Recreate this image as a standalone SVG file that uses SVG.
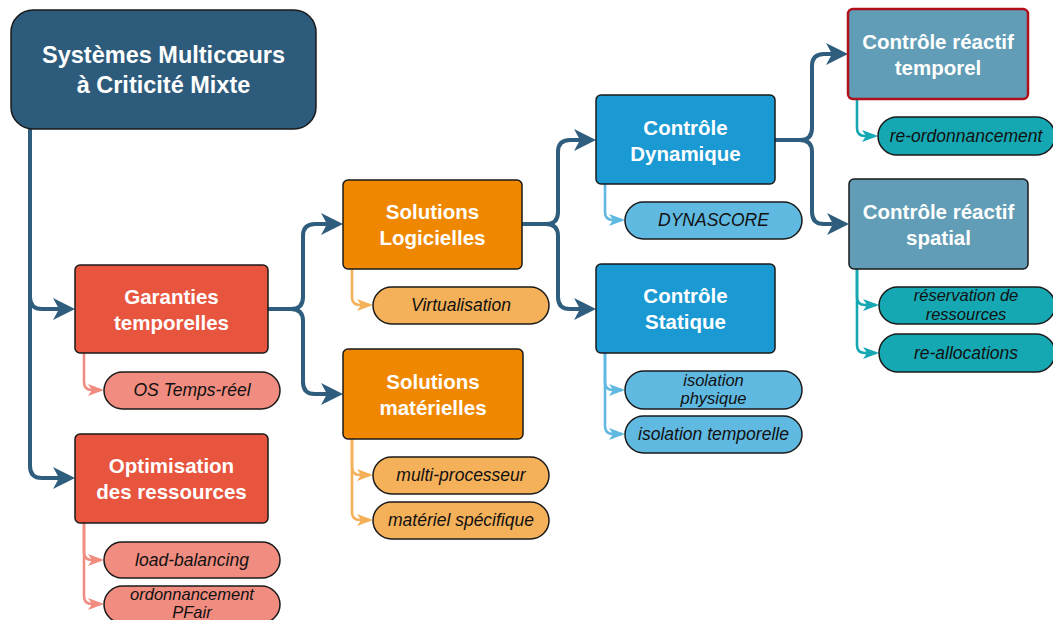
<svg xmlns="http://www.w3.org/2000/svg" width="1053" height="620" viewBox="0 0 1053 620">
<defs>
<style>
.node{stroke:#1a1a1a;stroke-width:1.5}
.root{fill:#2d5b7b}
.red{fill:#e8553f}
.org{fill:#ef8800}
.blu{fill:#1b99d3}
.stl{fill:#619db6}
.lred{fill:#f08c80}
.lorg{fill:#f5b05a}
.lblu{fill:#60b9e1}
.ltel{fill:#15a8b3}
.t{font-family:"Liberation Sans",Arial,sans-serif;font-weight:bold;fill:#fff;text-anchor:middle;font-size:20.5px}
.tr{font-size:23.5px}
.l{font-family:"Liberation Sans",Arial,sans-serif;font-style:italic;fill:#111;text-anchor:middle;font-size:17.5px}
.l2{font-size:16.5px}
.main{fill:none;stroke:#2f5d7e;stroke-width:4;marker-end:url(#am)}
.sub{fill:none;stroke-width:2.6}
.sred{stroke:#f08c80;marker-end:url(#ared)}
.sorg{stroke:#f5b05a;marker-end:url(#aorg)}
.sblu{stroke:#60b9e1;marker-end:url(#ablu)}
.stel{stroke:#15a8b3;marker-end:url(#atel)}
</style>
<marker id="am" markerUnits="userSpaceOnUse" markerWidth="22" markerHeight="22" viewBox="0 0 22 22" refX="18" refY="11" orient="auto"><path d="M0,0 L22,11 L0,22 L6,11 Z" fill="#2f5d7e"/></marker>
<marker id="ared" markerUnits="userSpaceOnUse" markerWidth="16" markerHeight="12" viewBox="0 0 16 12" refX="13" refY="6" orient="auto"><path d="M0,0 L16,6 L0,12 L4,6 Z" fill="#f08c80"/></marker>
<marker id="aorg" markerUnits="userSpaceOnUse" markerWidth="16" markerHeight="12" viewBox="0 0 16 12" refX="13" refY="6" orient="auto"><path d="M0,0 L16,6 L0,12 L4,6 Z" fill="#f5b05a"/></marker>
<marker id="ablu" markerUnits="userSpaceOnUse" markerWidth="16" markerHeight="12" viewBox="0 0 16 12" refX="13" refY="6" orient="auto"><path d="M0,0 L16,6 L0,12 L4,6 Z" fill="#60b9e1"/></marker>
<marker id="atel" markerUnits="userSpaceOnUse" markerWidth="16" markerHeight="12" viewBox="0 0 16 12" refX="13" refY="6" orient="auto"><path d="M0,0 L16,6 L0,12 L4,6 Z" fill="#15a8b3"/></marker>
</defs>
<rect width="1053" height="620" fill="#fff"/>

<g id="connectors">
<path class="main" d="M30,129 V297 Q30,309 42,309 H71"/>
<path class="main" d="M30,129 V466 Q30,478 42,478 H71"/>
<path class="main" d="M268,309 H291 Q303,309 303,297 V236 Q303,224 315,224 H339"/>
<path class="main" d="M268,309 H291 Q303,309 303,321 V382 Q303,394 315,394 H339"/>
<path class="main" d="M522,224 H546 Q558,224 558,212 V152 Q558,140 570,140 H592"/>
<path class="main" d="M522,224 H546 Q558,224 558,236 V297 Q558,309 570,309 H592"/>
<path class="main" d="M775,140 H800 Q812,140 812,128 V66 Q812,54 824,54 H844"/>
<path class="main" d="M775,140 H800 Q812,140 812,152 V212 Q812,224 824,224 H845"/>

<path class="sub sred" d="M84,353 V382 Q84,390 92,390 H101"/>
<path class="sub sred" d="M84,523 V552 Q84,560 92,560 H101"/>
<path class="sub sred" d="M84,523 V596 Q84,604 92,604 H101"/>
<path class="sub sorg" d="M352,269 V297 Q352,305 360,305 H370"/>
<path class="sub sorg" d="M352,439 V467 Q352,475 360,475 H370"/>
<path class="sub sorg" d="M352,439 V512 Q352,520 360,520 H370"/>
<path class="sub sblu" d="M605,184 V212 Q605,220 613,220 H622"/>
<path class="sub sblu" d="M605,353 V382 Q605,390 613,390 H622"/>
<path class="sub sblu" d="M605,353 V426 Q605,434 613,434 H622"/>
<path class="sub stel" d="M857,99 V128 Q857,136 865,136 H875"/>
<path class="sub stel" d="M857,269 V297 Q857,305 865,305 H876"/>
<path class="sub stel" d="M857,269 V345 Q857,353 865,353 H876"/>
</g>

<g id="root"><rect class="node root" x="11" y="10" width="305" height="119" rx="22"/>
<text class="t tr" x="163.5" y="63">Systèmes Multicœurs</text><text class="t tr" x="163.5" y="93">à Criticité Mixte</text></g>

<g id="garanties"><rect class="node red" x="75" y="265" width="193" height="88" rx="5"/>
<text class="t" x="171.5" y="304">Garanties</text><text class="t" x="171.5" y="330">temporelles</text></g>
<g id="os"><rect class="node lred" x="104" y="372" width="176" height="37" rx="18.5"/>
<text class="l" x="192" y="396">OS Temps-réel</text></g>

<g id="optimisation"><rect class="node red" x="75" y="434" width="193" height="89" rx="5"/>
<text class="t" x="171.5" y="473">Optimisation</text><text class="t" x="171.5" y="499">des ressources</text></g>
<g id="loadbalancing"><rect class="node lred" x="104" y="542" width="176" height="36" rx="18"/>
<text class="l" x="192" y="566">load-balancing</text></g>
<g id="pfair"><rect class="node lred" x="104" y="586" width="176" height="37" rx="18.5"/>
<text class="l l2" x="192" y="599.5">ordonnancement</text><text class="l l2" x="192" y="618">PFair</text></g>

<g id="logicielles"><rect class="node org" x="343" y="180" width="179" height="89" rx="5"/>
<text class="t" x="432.5" y="219">Solutions</text><text class="t" x="432.5" y="245">Logicielles</text></g>
<g id="virtualisation"><rect class="node lorg" x="373" y="287" width="176" height="37" rx="18.5"/>
<text class="l" x="461" y="311">Virtualisation</text></g>

<g id="materielles"><rect class="node org" x="343" y="349" width="180" height="90" rx="5"/>
<text class="t" x="433" y="389">Solutions</text><text class="t" x="433" y="415">matérielles</text></g>
<g id="multiproc"><rect class="node lorg" x="373" y="457" width="176" height="37" rx="18.5"/>
<text class="l" x="461" y="481">multi-processeur</text></g>
<g id="specifique"><rect class="node lorg" x="373" y="502" width="176" height="37" rx="18.5"/>
<text class="l" x="461" y="526">matériel spécifique</text></g>

<g id="dynamique"><rect class="node blu" x="596" y="95" width="179" height="89" rx="5"/>
<text class="t" x="685.5" y="135">Contrôle</text><text class="t" x="685.5" y="161">Dynamique</text></g>
<g id="dynascore"><rect class="node lblu" x="625" y="202" width="177" height="37" rx="18.5"/>
<text class="l" x="713.5" y="226">DYNASCORE</text></g>

<g id="statique"><rect class="node blu" x="596" y="264" width="179" height="89" rx="5"/>
<text class="t" x="685.5" y="303">Contrôle</text><text class="t" x="685.5" y="329">Statique</text></g>
<g id="isophys"><rect class="node lblu" x="625" y="371" width="177" height="38" rx="19"/>
<text class="l l2" x="713.5" y="385.5">isolation</text><text class="l l2" x="713.5" y="404">physique</text></g>
<g id="isotemp"><rect class="node lblu" x="625" y="416" width="177" height="37" rx="18.5"/>
<text class="l" x="713.5" y="440">isolation temporelle</text></g>

<g id="reactiftemporel"><rect x="848" y="9" width="180" height="90" rx="5" fill="#619db6" stroke="#b0101a" stroke-width="2.5"/>
<text class="t" x="938" y="49">Contrôle réactif</text><text class="t" x="938" y="75">temporel</text></g>
<g id="reordo"><rect class="node ltel" x="878" y="117" width="177" height="38" rx="19"/>
<text class="l" x="966" y="142">re-ordonnancement</text></g>

<g id="reactifspatial"><rect class="node stl" x="849" y="179" width="179" height="90" rx="5"/>
<text class="t" x="938.5" y="219">Contrôle réactif</text><text class="t" x="938.5" y="245">spatial</text></g>
<g id="reservation"><rect class="node ltel" x="879" y="287" width="176" height="37" rx="18.5"/>
<text class="l l2" x="966" y="301">réservation de</text><text class="l l2" x="966" y="319.5">ressources</text></g>
<g id="reallocations"><rect class="node ltel" x="879" y="334" width="176" height="38" rx="19"/>
<text class="l" x="966" y="359">re-allocations</text></g>
</svg>
